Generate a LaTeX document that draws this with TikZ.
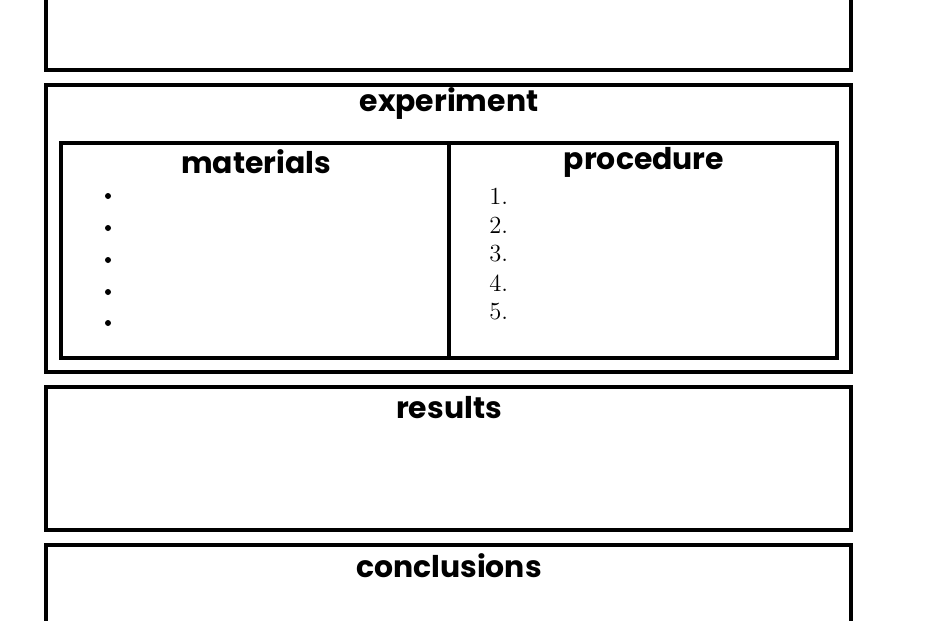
\documentclass[tikz,border=0pt]{standalone}
\usepackage{fontspec}
\newfontfamily\headfont{Poppins}
\tikzset{
  panel/.style={draw=black, line width=1.8pt},
  heading/.style={font=\headfont\bfseries\fontsize{17}{17}\selectfont, inner sep=0pt},
  entry/.style={font=\fontsize{14}{14}\selectfont, inner sep=0pt, anchor=west}
}
\begin{document}
\begin{tikzpicture}[x=0.02cm, y=-0.02cm]
	\useasboundingbox (0,0) rectangle (930,620);
	\clip (0,0) rectangle (930,620);

	% boxes
	\draw[panel] (46,-20) rectangle (851,70);
	\draw[panel] (46,85) rectangle (851,372);
	\draw[panel] (61,143) rectangle (837,358);
	\draw[panel] (449,143) -- (449,358);
	\draw[panel] (46,387) rectangle (851,530);
	\draw[panel] (46,545) rectangle (851,650);

	% headings
	\node[heading] (experiment) at (449,104) {experiment};
	\node[heading] (materials) at (256,162) {materials};
	\node[heading] (procedure) at (644,162) {procedure};
	\node[heading] (results) at (449,408) {results};
	\node[heading] (conclusions) at (449,566) {conclusions};

	% lists
	\foreach \y in {196,228,260,292,323}
		\fill (108,\y) circle[radius=3];
	\foreach \n/\y in {1/196,2/225,3/254,4/283,5/312}
		\node[entry] (step\n) at (489,\y) {\n.};
\end{tikzpicture}
\end{document}
